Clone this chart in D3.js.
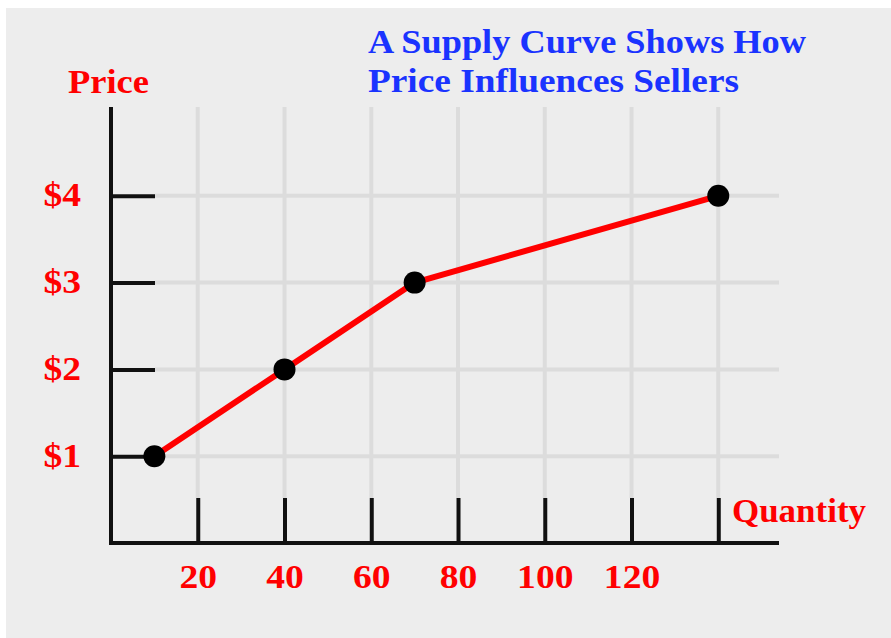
<!DOCTYPE html>
<html>
<head>
<meta charset="utf-8">
<script src="https://cdn.jsdelivr.net/npm/d3@7"></script>
<style>
  html, body { margin: 0; padding: 0; background: #ffffff; }
  svg { display: block; }
</style>
</head>
<body>
<svg id="chart" width="891" height="638"></svg>
<script>
// ---- data ----
const quantities = [10, 40, 70, 140];
const prices = [1, 2, 3, 4];
const xTickValues = [20, 40, 60, 80, 100, 120, 140];
const xTickLabels = ["20", "40", "60", "80", "100", "120", ""];
const yTickValues = [1, 2, 3, 4];
const yTickLabels = ["$1", "$2", "$3", "$4"];
const titleLines = ["A Supply Curve Shows How", "Price Influences Sellers"];
const yAxisTitle = "Price";
const xAxisTitle = "Quantity";

// ---- layout ----
const svg = d3.select("#chart");
const W = 891, H = 638;
const serif = "'Liberation Serif', 'Times New Roman', serif";
const red = "#ff0000";
const blue = "#1a33ff";
const gridColor = "#dcdcdc";
const axisColor = "#111111";
const charW = 18.8;

svg.append("rect").attr("x", 6).attr("y", 8).attr("width", W - 6).attr("height", H - 8)
  .attr("fill", "#ededed");

const x = d3.scaleLinear().domain([0, 154]).range([111, 779]);
const y = d3.scaleLinear().domain([0, 5]).range([543, 109]);
const yTickLen = 44, xTickLen = 45;

// ---- grid ----
const grid = svg.append("g");
grid.selectAll("line.v").data(xTickValues).join("line")
  .attr("x1", d => x(d)).attr("x2", d => x(d))
  .attr("y1", y(0) - xTickLen).attr("y2", y.range()[1] - 2)
  .attr("stroke", gridColor).attr("stroke-width", 4);
grid.selectAll("line.h").data(yTickValues).join("line")
  .attr("x1", x(0) + yTickLen).attr("x2", x.range()[1])
  .attr("y1", d => y(d)).attr("y2", d => y(d))
  .attr("stroke", gridColor).attr("stroke-width", 4);

// ---- axes ----
const xAxis = d3.axisBottom(x)
  .tickValues(xTickValues)
  .tickSizeInner(-xTickLen).tickSizeOuter(0)
  .tickFormat((d, i) => xTickLabels[i]);
const gx = svg.append("g").attr("transform", `translate(0,${y(0)})`).call(xAxis);
gx.select(".domain").remove();
gx.selectAll(".tick line").attr("stroke", axisColor).attr("stroke-width", 4);
gx.selectAll(".tick text")
  .attr("y", 45).attr("dy", null)
  .attr("fill", red).attr("font-family", serif).attr("font-weight", "bold")
  .attr("font-size", 34)
  .each(function () {
    const t = d3.select(this).text();
    if (t.length) d3.select(this).attr("textLength", t.length * charW).attr("lengthAdjust", "spacingAndGlyphs");
  });

const yAxis = d3.axisLeft(y)
  .tickValues(yTickValues)
  .tickSizeInner(-yTickLen).tickSizeOuter(0)
  .tickFormat((d, i) => yTickLabels[i]);
const gy = svg.append("g").attr("transform", `translate(${x(0)},0)`).call(yAxis);
gy.select(".domain").remove();
gy.selectAll(".tick line").attr("stroke", axisColor).attr("stroke-width", 4);
gy.selectAll(".tick text")
  .attr("x", -30).attr("dy", null).attr("y", 10)
  .attr("text-anchor", "end")
  .attr("fill", red).attr("font-family", serif).attr("font-weight", "bold")
  .attr("font-size", 34)
  .each(function () {
    const t = d3.select(this).text();
    d3.select(this).attr("textLength", t.length * charW).attr("lengthAdjust", "spacingAndGlyphs");
  });

// axis lines
svg.append("line")
  .attr("x1", x(0)).attr("x2", x(0))
  .attr("y1", y.range()[1] - 2).attr("y2", y(0) + 2)
  .attr("stroke", axisColor).attr("stroke-width", 4);
svg.append("line")
  .attr("x1", x(0) - 2).attr("x2", x.range()[1])
  .attr("y1", y(0)).attr("y2", y(0))
  .attr("stroke", axisColor).attr("stroke-width", 4);

// ---- titles ----
svg.append("text").attr("x", 68).attr("y", 93)
  .attr("fill", red).attr("font-family", serif).attr("font-weight", "bold")
  .attr("font-size", 34).attr("textLength", 81).attr("lengthAdjust", "spacingAndGlyphs")
  .text(yAxisTitle);
svg.append("text").attr("x", 732).attr("y", 522)
  .attr("fill", red).attr("font-family", serif).attr("font-weight", "bold")
  .attr("font-size", 34).attr("textLength", 134).attr("lengthAdjust", "spacingAndGlyphs")
  .text(xAxisTitle);
const titleWidths = [438, 371];
svg.selectAll("text.title").data(titleLines).join("text")
  .attr("class", "title")
  .attr("x", 368).attr("y", (d, i) => 53 + i * 39)
  .attr("fill", blue).attr("font-family", serif).attr("font-weight", "bold")
  .attr("font-size", 34)
  .attr("textLength", (d, i) => titleWidths[i]).attr("lengthAdjust", "spacingAndGlyphs")
  .text(d => d);

// ---- supply curve ----
const pts = quantities.map((q, i) => [q, prices[i]]);
svg.append("path").datum(pts)
  .attr("d", d3.line().x(d => x(d[0])).y(d => y(d[1])))
  .attr("fill", "none").attr("stroke", red).attr("stroke-width", 6)
  .attr("stroke-linejoin", "round");
svg.selectAll("circle.pt").data(pts).join("circle")
  .attr("class", "pt")
  .attr("cx", d => x(d[0])).attr("cy", d => y(d[1])).attr("r", 11)
  .attr("fill", "#000");
</script>
</body>
</html>
